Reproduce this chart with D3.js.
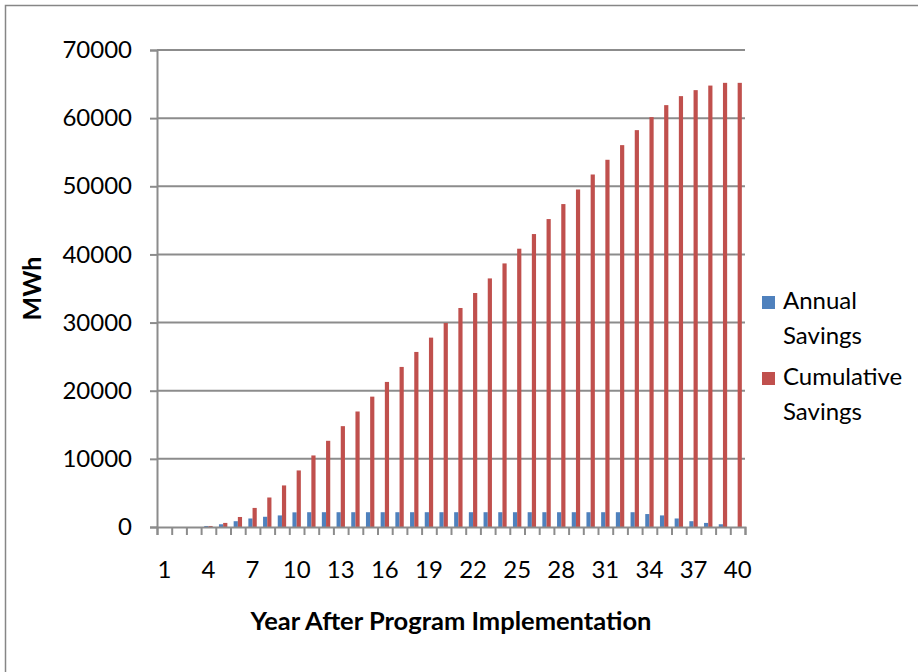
<!DOCTYPE html>
<html>
<head>
<meta charset="utf-8">
<script src="https://cdn.jsdelivr.net/npm/d3@7"></script>
<style>
  body { margin: 0; background: #fff; }
  svg text { font-family: Lato, "Open Sans", sans-serif; fill: #000; }
</style>
</head>
<body>
<svg id="chart" width="918" height="672"></svg>
<script>
// years 1..40
const years = d3.range(1, 41);

// annual savings (MWh)
const annualSavings = [
    0, 0, 0, 150, 400, 850, 1250, 1500, 1700, 2150,
    2170, 2170, 2170, 2170, 2170, 2170, 2170, 2170, 2170, 2170,
    2170, 2170, 2170, 2170, 2170, 2170, 2170, 2170, 2170, 2170,
    2170, 2170, 2170, 1900, 1700, 1250, 850, 600, 400, 0
];

// cumulative savings (MWh)
const cumulativeSavings = [
    0, 0, 0, 150, 600, 1470, 2800, 4330, 6100, 8300,
    10500, 12650, 14800, 16950, 19130, 21290, 23490, 25690, 27790, 29940,
    32140, 34340, 36480, 38680, 40840, 42990, 45190, 47390, 49530, 51730,
    53890, 56040, 58240, 60150, 61910, 63230, 64110, 64780, 65180, 65180
];

const yTicks = [0, 10000, 20000, 30000, 40000, 50000, 60000, 70000];
const xLabelYears = [1, 4, 7, 10, 13, 16, 19, 22, 25, 28, 31, 34, 37, 40];

const seriesNames = ["Annual Savings", "Cumulative Savings"];
const seriesColors = ["#4f81bd", "#c0504d"];

const svg = d3.select("#chart");

// outer frame
svg.append("rect")
    .attr("x", 5.5).attr("y", 5.5)
    .attr("width", 930).attr("height", 700)
    .attr("fill", "none")
    .attr("stroke", "#868686")
    .attr("stroke-width", 1.5);

const plot = {left: 157, right: 745, top: 50, bottom: 527};

const xScale = d3.scaleBand()
    .domain(years)
    .range([plot.left, plot.right])
    .padding(0);

const yScale = d3.scaleLinear()
    .domain([0, 70000])
    .range([plot.bottom, plot.top]);

// gridlines
svg.append("g")
    .selectAll("line")
    .data(yTicks.slice(1))
    .enter()
    .append("line")
    .attr("x1", plot.left).attr("x2", plot.right)
    .attr("y1", d => yScale(d)).attr("y2", d => yScale(d))
    .attr("stroke", "#8c8c8c")
    .attr("stroke-width", 2);

// bars: two series per year, Excel style gap width 150%
const barW = xScale.bandwidth() / 3.5;
const seriesData = [annualSavings, cumulativeSavings];

seriesData.forEach((values, s) => {
    svg.append("g")
        .selectAll("rect")
        .data(values)
        .enter()
        .append("rect")
        .attr("x", (d, i) => xScale(years[i]) + xScale.bandwidth() / 2 - barW + s * barW)
        .attr("y", d => yScale(d))
        .attr("width", barW)
        .attr("height", d => yScale(0) - yScale(d))
        .attr("fill", seriesColors[s]);
});

// y axis
const yAxis = svg.append("g")
    .attr("transform", `translate(${plot.left}, 0)`)
    .call(d3.axisLeft(yScale).tickValues(yTicks).tickSize(7).tickPadding(18).tickFormat(d3.format("d")));
yAxis.select(".domain").attr("stroke", "#8c8c8c").attr("stroke-width", 2);
yAxis.selectAll(".tick line").attr("stroke", "#8c8c8c").attr("stroke-width", 2);
yAxis.selectAll("text").style("font-size", "24px");

// x axis: tick marks on category boundaries
const xEdge = d3.scaleLinear().domain([0, 40]).range([plot.left, plot.right]);
const xAxis = svg.append("g")
    .attr("transform", `translate(0, ${plot.bottom})`)
    .call(d3.axisBottom(xEdge).tickValues(d3.range(0, 41)).tickSize(8).tickFormat(""));
xAxis.select(".domain").attr("stroke", "#8c8c8c").attr("stroke-width", 2);
xAxis.selectAll(".tick line").attr("stroke", "#8c8c8c").attr("stroke-width", 2);

// x labels every third year
const xLabels = svg.append("g")
    .attr("transform", `translate(0, ${plot.bottom})`)
    .call(d3.axisBottom(xScale).tickValues(xLabelYears).tickSize(0).tickPadding(34));
xLabels.select(".domain").remove();
xLabels.selectAll("text").style("font-size", "24px");

// axis titles
svg.append("text")
    .attr("x", (plot.left + plot.right) / 2)
    .attr("y", 630)
    .attr("text-anchor", "middle")
    .style("font-size", "25.5px")
    .style("font-weight", "bold")
    .text("Year After Program Implementation");

svg.append("text")
    .attr("transform", `translate(41, ${(plot.top + plot.bottom) / 2}) rotate(-90)`)
    .attr("text-anchor", "middle")
    .style("font-size", "25px")
    .style("font-weight", "bold")
    .text("MWh");

// legend
const legendRows = [
    {lines: ["Annual", "Savings"], y: 309},
    {lines: ["Cumulative", "Savings"], y: 385}
];
legendRows.forEach((row, i) => {
    svg.append("rect")
        .attr("x", 762).attr("y", row.y - 13)
        .attr("width", 13).attr("height", 13)
        .attr("fill", seriesColors[i]);
    row.lines.forEach((t, j) => {
        svg.append("text")
            .attr("x", 783)
            .attr("y", row.y + j * 35)
            .style("font-size", "24px")
            .text(t);
    });
});
</script>
</body>
</html>
